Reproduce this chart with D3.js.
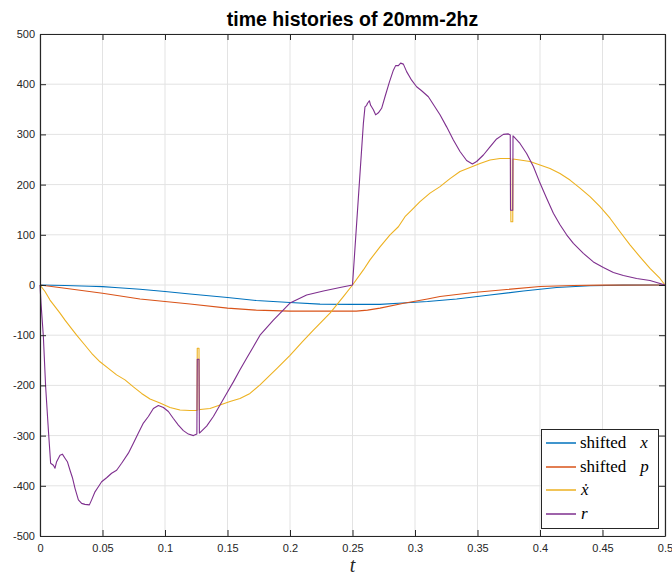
<!DOCTYPE html>
<html>
<head>
<meta charset="utf-8">
<script src="https://cdn.jsdelivr.net/npm/d3@7"></script>
<style>
  html, body { margin: 0; padding: 0; background: #fff; }
  svg { display: block; }
</style>
</head>
<body>
<div id="chart"></div>
<script>
// Time histories of the 20mm / 2 Hz run: [t, value] samples for each signal
const shiftedX = [[0,0],[0.02,-1],[0.04,-2.5],[0.05,-3.3],[0.06,-5],[0.08,-8.6],[0.1,-13],[0.12,-18],[0.15,-25],[0.173,-31],[0.2,-35],[0.224,-38],[0.25,-38.5],[0.272,-38.5],[0.29,-36],[0.31,-33],[0.3333,-28],[0.36,-20],[0.3867,-12],[0.4133,-5],[0.44,-1.4],[0.4667,-0.3],[0.5,0]];

const shiftedP = [[0,0],[0.02,-6.5],[0.05,-16.5],[0.08,-28],[0.1,-33],[0.12,-38],[0.15,-46],[0.173,-50],[0.2,-52],[0.227,-52],[0.253,-52],[0.262,-50],[0.272,-46],[0.29,-37],[0.31,-28],[0.32,-23],[0.3467,-15],[0.3733,-9],[0.4,-3],[0.4267,-1],[0.45,-0.3],[0.5,0]];

const xDot = [[0,0],[0.004,-13],[0.008,-30],[0.012,-43],[0.016,-56],[0.02,-70],[0.024,-83],[0.0293,-100],[0.0347,-116],[0.0413,-136],[0.048,-153],[0.0547,-166],[0.0613,-179],[0.068,-189],[0.0747,-203],[0.0813,-216],[0.088,-227],[0.096,-235],[0.104,-244],[0.112,-249],[0.12,-250],[0.1256,-250],[0.1258,-126],[0.1272,-126],[0.1274,-249],[0.128,-248],[0.136,-246],[0.144,-239],[0.152,-232],[0.16,-226],[0.168,-216],[0.176,-199],[0.19,-165],[0.2,-140],[0.21,-113],[0.2187,-90],[0.232,-56],[0.2427,-23],[0.25,0],[0.2587,30],[0.264,50],[0.272,76],[0.28,100],[0.2867,116],[0.292,136],[0.2973,149],[0.304,166],[0.312,183],[0.32,196],[0.328,212],[0.336,226],[0.344,234],[0.352,242],[0.36,249],[0.368,252],[0.3765,252],[0.3767,126],[0.3782,126],[0.3784,251],[0.384,249],[0.392,246],[0.4,239],[0.408,232],[0.416,222],[0.424,209],[0.432,193],[0.44,176],[0.448,156],[0.456,133],[0.464,106],[0.472,80],[0.48,56],[0.488,33],[0.496,13],[0.5,0]];

const rForce = [[0,0],[0.0008,-36],[0.0027,-103],[0.0045,-202],[0.0067,-289],[0.0085,-355],[0.0107,-359],[0.012,-365],[0.0133,-352],[0.016,-339],[0.0179,-337],[0.02,-345],[0.0219,-352],[0.024,-369],[0.0261,-385],[0.028,-405],[0.0307,-428],[0.0333,-435],[0.036,-437],[0.0395,-438],[0.0413,-428],[0.044,-412],[0.0467,-402],[0.0493,-392],[0.0533,-384],[0.0573,-375],[0.0613,-369],[0.0653,-355],[0.0707,-335],[0.0747,-315],[0.0787,-295],[0.0827,-275],[0.0867,-262],[0.0907,-246],[0.0947,-240],[0.0987,-244],[0.1027,-252],[0.1067,-266],[0.1107,-279],[0.1147,-290],[0.1187,-297],[0.1227,-300],[0.1255,-297],[0.1258,-148],[0.1272,-148],[0.1275,-295],[0.128,-294],[0.1333,-281],[0.1387,-262],[0.144,-239],[0.1493,-216],[0.1547,-193],[0.16,-169],[0.1653,-146],[0.1707,-123],[0.176,-100],[0.1867,-70],[0.2,-36],[0.2133,-20],[0.2267,-12],[0.24,-5],[0.25,0],[0.2587,322],[0.26,355],[0.2613,358],[0.262,362],[0.2635,367],[0.2645,358],[0.2667,349],[0.2685,339],[0.2707,343],[0.2733,352],[0.276,375],[0.2795,404],[0.2827,428],[0.2845,437],[0.2867,437],[0.2885,442],[0.2907,440],[0.2933,425],[0.2973,408],[0.3013,395],[0.3053,387],[0.3107,375],[0.32,339],[0.3253,315],[0.3307,289],[0.336,266],[0.3413,248],[0.3459,241],[0.3493,246],[0.3547,259],[0.36,275],[0.3653,291],[0.3707,300],[0.3747,301],[0.3762,299],[0.3764,149],[0.3782,149],[0.3784,297],[0.3792,295],[0.384,282],[0.3893,262],[0.3947,236],[0.4,203],[0.4053,173],[0.4107,143],[0.416,120],[0.4213,100],[0.4267,83],[0.4347,63],[0.4427,46],[0.4507,35],[0.4587,25],[0.4667,19],[0.4773,13],[0.488,9],[0.5,0]];

const xTicks = [0, 0.05, 0.1, 0.15, 0.2, 0.25, 0.3, 0.35, 0.4, 0.45, 0.5];
const xTickLabels = ["0", "0.05", "0.1", "0.15", "0.2", "0.25", "0.3", "0.35", "0.4", "0.45", "0.5"];
const yTicks = [500, 400, 300, 200, 100, 0, -100, -200, -300, -400, -500];
const yTickLabels = ["500", "400", "300", "200", "100", "0", "-100", "-200", "-300", "-400", "-500"];

const seriesNames = ["shifted x", "shifted p", "x dot", "r"];
const seriesColors = ["#0072BD", "#D95319", "#EDB120", "#7E2F8E"];
const seriesData = [shiftedX, shiftedP, xDot, rForce];

const titleText = "time histories of 20mm-2hz";
const xLabelText = "t";

// ---- layout ----
const W = 672, H = 575;
const plot = { left: 40, right: 665, top: 34, bottom: 536 };
const axisColor = "#262626";
const gridColor = "#e3e3e3";

const svg = d3.select("#chart").append("svg")
  .attr("width", W).attr("height", H);

const x = d3.scaleLinear().domain([0, 0.5]).range([plot.left, plot.right]);
const y = d3.scaleLinear().domain([-500, 500]).range([plot.bottom, plot.top]);

// grid
const grid = svg.append("g");
grid.selectAll("line.gx").data(xTicks).join("line")
  .attr("x1", d => x(d)).attr("x2", d => x(d))
  .attr("y1", plot.top).attr("y2", plot.bottom)
  .attr("stroke", gridColor).attr("stroke-width", 1);
grid.selectAll("line.gy").data(yTicks).join("line")
  .attr("y1", d => y(d)).attr("y2", d => y(d))
  .attr("x1", plot.left).attr("x2", plot.right)
  .attr("stroke", gridColor).attr("stroke-width", 1);

// series lines
const line = d3.line().x(d => x(d[0])).y(d => y(d[1]));
svg.append("g").selectAll("path").data(seriesData).join("path")
  .attr("d", d => line(d))
  .attr("fill", "none")
  .attr("stroke", (d, i) => seriesColors[i])
  .attr("stroke-width", 1.1)
  .attr("stroke-linejoin", "round");

// axes (box with inward ticks on all four sides)
function styleAxis(g) {
  g.selectAll(".domain").attr("stroke", axisColor).attr("stroke-width", 1.2);
  g.selectAll(".tick line").attr("stroke", axisColor).attr("stroke-width", 1);
  g.selectAll(".tick text")
    .attr("fill", axisColor)
    .style("font-family", "'Liberation Sans', Arial, sans-serif")
    .style("font-size", "11px");
}

svg.append("g")
  .attr("transform", `translate(0,${plot.bottom})`)
  .call(d3.axisBottom(x).tickValues(xTicks)
    .tickFormat((d, i) => xTickLabels[i])
    .tickSizeInner(-6).tickSizeOuter(0).tickPadding(8))
  .call(styleAxis);

svg.append("g")
  .attr("transform", `translate(${plot.left},0)`)
  .call(d3.axisLeft(y).tickValues(yTicks)
    .tickFormat((d, i) => yTickLabels[i])
    .tickSizeInner(-6).tickSizeOuter(0).tickPadding(5))
  .call(styleAxis);

svg.append("g")
  .attr("transform", `translate(0,${plot.top})`)
  .call(d3.axisTop(x).tickValues(xTicks).tickFormat("")
    .tickSizeInner(-6).tickSizeOuter(0))
  .call(styleAxis);

svg.append("g")
  .attr("transform", `translate(${plot.right},0)`)
  .call(d3.axisRight(y).tickValues(yTicks).tickFormat("")
    .tickSizeInner(-6).tickSizeOuter(0))
  .call(styleAxis);

// title
svg.append("text")
  .attr("x", (plot.left + plot.right) / 2)
  .attr("y", 26)
  .attr("text-anchor", "middle")
  .attr("fill", "#000")
  .style("font-family", "'Liberation Sans', Arial, sans-serif")
  .style("font-weight", "bold")
  .style("font-size", "19.5px")
  .text(titleText);

// x-axis label
svg.append("text")
  .attr("x", (plot.left + plot.right) / 2)
  .attr("y", 572)
  .attr("text-anchor", "middle")
  .attr("fill", axisColor)
  .style("font-family", "'Liberation Serif', 'Times New Roman', serif")
  .style("font-style", "italic")
  .style("font-size", "20px")
  .text(xLabelText);

// legend
const legend = svg.append("g");
const lg = { x: 541, y: 429, w: 117, h: 99 };
legend.append("rect")
  .attr("x", lg.x + 0.5).attr("y", lg.y + 0.5)
  .attr("width", lg.w).attr("height", lg.h)
  .attr("fill", "#fff").attr("stroke", axisColor).attr("stroke-width", 1);

const rowY = [443, 467, 490, 514];
const entries = legend.selectAll("g.entry").data(seriesNames).join("g")
  .attr("transform", (d, i) => `translate(0,${rowY[i]})`);
entries.append("line")
  .attr("x1", 546).attr("x2", 576)
  .attr("y1", 0).attr("y2", 0)
  .attr("stroke", (d, i) => seriesColors[i])
  .attr("stroke-width", 1.5);

const legendFont = "'Liberation Serif', 'Times New Roman', serif";
entries.each(function (d, i) {
  const t = d3.select(this).append("text")
    .attr("x", 580).attr("y", 5)
    .attr("fill", "#000")
    .style("font-family", legendFont)
    .style("font-size", "17px");
  if (i === 0 || i === 1) {
    t.append("tspan").text("shifted");
    t.append("tspan").attr("dx", 14).style("font-style", "italic").text(i === 0 ? "x" : "p");
  } else if (i === 2) {
    t.append("tspan").attr("dx", 1).style("font-style", "italic").text("\u1E8B");
  } else {
    t.append("tspan").attr("dx", 1).style("font-style", "italic").text("r");
  }
});
</script>
</body>
</html>
